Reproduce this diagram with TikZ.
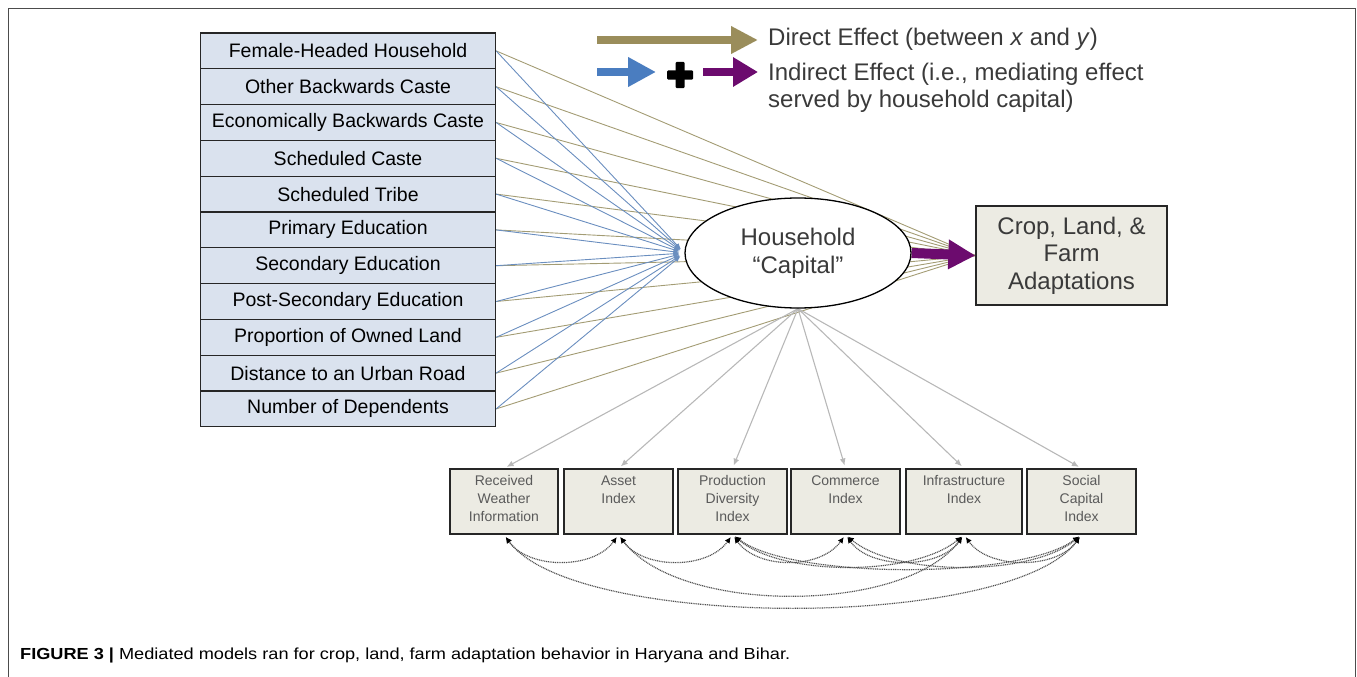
\documentclass[tikz,border=0pt]{standalone}
\usepackage{fontspec}
\setmainfont{Liberation Sans}
\usepackage{graphicx}
\usetikzlibrary{arrows.meta,shapes.geometric}
\definecolor{rowfill}{HTML}{DAE2EE}
\definecolor{boxfill}{HTML}{ECEBE3}
\definecolor{olivec}{HTML}{9A8D5B}
\definecolor{olivelc}{HTML}{A39C74}
\definecolor{bluec}{HTML}{4A7DC0}
\definecolor{bluelc}{HTML}{6A8EBF}
\definecolor{purplec}{HTML}{6C0B6E}
\definecolor{greyarr}{HTML}{B8B8B8}
\definecolor{covc}{HTML}{505050}
\definecolor{txtgrey}{HTML}{3A3A3A}
\definecolor{smtxt}{HTML}{5A5A5A}
\pgfdeclarelayer{bg}
\pgfsetlayers{bg,main}
\begin{document}
\begin{tikzpicture}[x=1pt,y=-1pt,
  rowbox/.style={draw=black!85, line width=1.3pt, fill=rowfill, minimum width=295pt,
    minimum height=35.8pt, inner sep=0pt, font=\fontsize{19.5}{22}\selectfont},
  latent/.style={ellipse, draw=black, line width=1.3pt, fill=white, minimum width=226pt,
    minimum height=110pt, inner sep=0pt, align=center, text=txtgrey,
    font=\fontsize{24}{28}\selectfont},
  outbox/.style={draw=black!85, line width=1.3pt, fill=boxfill, minimum width=191pt,
    minimum height=99pt, inner sep=0pt, align=center, text=txtgrey,
    font=\fontsize{24}{27.5}\selectfont},
  mbox/.style={draw=black!85, line width=1.3pt, fill=boxfill, minimum height=65pt,
    inner sep=0pt},
  mlab/.style={anchor=north, align=center, font=\fontsize{14}{18}\selectfont,
    text=smtxt, inner sep=0pt, yshift=-7pt},
  oliveln/.style={draw=olivelc, line width=0.9pt},
  blueln/.style={draw=bluelc, line width=0.9pt, shorten >=5pt,
    -{Latex[length=6pt,width=5pt]}},
  greyln/.style={draw=greyarr, line width=1.1pt, shorten >=3pt,
    -{Latex[length=7pt,width=6pt]}},
  cov/.style={draw=covc, line width=1.2pt, dash pattern=on 1pt off 0.8pt,
    shorten >=3pt, shorten <=3pt,
    {Latex[length=6pt,width=6pt,black]}-{Latex[length=6pt,width=6pt,black]}},
  legtext/.style={text=txtgrey, font=\fontsize{24}{27}\selectfont, inner sep=0pt, align=left}
]
\useasboundingbox (0,0) rectangle (1357,677);
% frame
\draw[line width=1pt, black!70] (8,677) -- (8,9) -- (1355,9) -- (1355,677);

% exogenous variables
\foreach \i/\t in {1/Female-Headed Household, 2/Other Backwards Caste,
  3/Economically Backwards Caste, 4/Scheduled Caste, 5/Scheduled Tribe,
  6/Primary Education, 7/Secondary Education, 8/Post-Secondary Education,
  9/Proportion of Owned Land, 10/Distance to an Urban Road, 11/Number of Dependents}
  \node[rowbox] (x\i) at (348, {33+35.8*(\i-0.5)}) {\t};

% latent and outcome
\node[latent] (hc) at (798,253) {Household\\“Capital”};
\node[outbox] (y) at (1071.5,255.5) {Crop, Land, \&\\Farm\\Adaptations};

% indicators
\node[mbox, minimum width=108pt, label={[mlab]north:{Received\\Weather\\Information}}] (m1) at (504,501.5) {};
\node[mbox, minimum width=109pt, label={[mlab]north:{Asset\\Index}}] (m2) at (618.5,501.5) {};
\node[mbox, minimum width=109pt, label={[mlab]north:{Production\\Diversity\\Index}}] (m3) at (732.5,501.5) {};
\node[mbox, minimum width=109pt, label={[mlab]north:{Commerce\\Index}}] (m4) at (845.5,501.5) {};
\node[mbox, minimum width=116pt, label={[mlab]north:{Infrastructure\\Index}}] (m5) at (964,501.5) {};
\node[mbox, minimum width=109pt, label={[mlab]north:{Social\\Capital\\Index}}] (m6) at (1081.5,501.5) {};

\begin{pgfonlayer}{bg}
\foreach \i in {1,...,11} \draw[oliveln] (x\i.east) -- (y.west);
\foreach \i in {1,...,11} \draw[blueln] (x\i.east) -- (hc.west);
\foreach \i in {1,...,6} \draw[greyln] (hc.south) -- (m\i.north);
\end{pgfonlayer}

% mediating path
\draw[purplec, line width=10pt, -{Triangle[length=27pt,width=28pt]}] (hc.east) -- (y.west);

% covariances
\draw[cov] (m1.south) .. controls +(25,35) and +(-25,35) .. (m2.south);
\draw[cov] (m2.south) .. controls +(25,35) and +(-25,35) .. (m3.south);
\draw[cov] (m3.south) .. controls +(25,35) and +(-25,35) .. (m4.south);
\draw[cov] (m4.south) .. controls +(25,35) and +(-25,35) .. (m5.south);
\draw[cov] (m5.south) .. controls +(25,35) and +(-25,35) .. (m6.south);
\draw[cov] (m3.south) .. controls +(50,42) and +(-50,42) .. (m5.south);
\draw[cov] (m3.south) .. controls +(60,45) and +(-60,45) .. (m6.south);
\draw[cov] (m4.south) .. controls +(50,42) and +(-50,42) .. (m6.south);
\draw[cov] (m2.south) .. controls +(60,80) and +(-60,80) .. (m5.south);
\draw[cov] (m1.south) .. controls +(70,96) and +(-70,96) .. (m6.south);

% legend
\coordinate (d0) at (597,40); \coordinate (d1) at (758,40);
\draw[olivec, line width=8pt, -{Triangle[length=27pt,width=26pt]}] (d0) -- (d1);
\coordinate (b0) at (597,72); \coordinate (b1) at (656,72);
\draw[bluec, line width=8pt, -{Triangle[length=28pt,width=28pt]}] (b0) -- (b1);
\fill[black, rounded corners=1pt] (675.5,62) rectangle (684.5,88);
\fill[black, rounded corners=1pt] (667,70.5) rectangle (693,79.5);
\coordinate (p0) at (703,72); \coordinate (p1) at (758,72);
\draw[purplec, line width=8pt, -{Triangle[length=25pt,width=28pt]}] (p0) -- (p1);
\node[legtext, anchor=west] (l1) at (768,39) {Direct Effect (between \textit{x} and \textit{y})};
\node[legtext, anchor=west] (l2) at (768,87.5) {Indirect Effect (i.e., mediating effect\\served by household capital)};

% caption
\node[anchor=west, inner sep=0pt] (cap) at (20,655) {\resizebox{770pt}{\height}{\fontsize{16}{18}\selectfont\textbf{FIGURE 3 |} Mediated models ran for crop, land, farm adaptation behavior in Haryana and Bihar.}};
\end{tikzpicture}
\end{document}
